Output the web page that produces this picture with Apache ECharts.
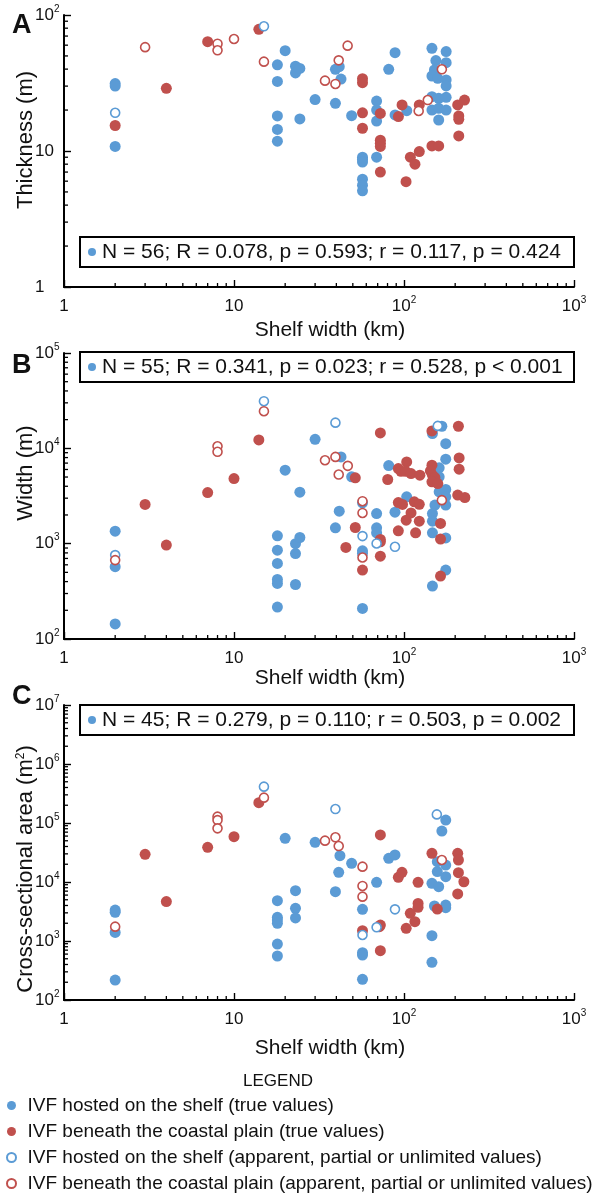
<!DOCTYPE html>
<html>
<head>
<meta charset="utf-8">
<script src="https://cdn.jsdelivr.net/npm/echarts@6/dist/echarts.min.js"></script>
<style>
  html, body { margin: 0; padding: 0; background: #fff; }
  #chart { width: 592px; height: 1194px; }
</style>
</head>
<body>
<div id="chart"></div>
<script>
// Incised-valley fill (IVF) dimensions against shelf width, three log-log panels.
// Each point is [shelf width (km), value].

// ---- Panel A: thickness (m) ----
const thicknessShelfTrue = [
  [2, 31.3], [2, 30], [2, 10.8],
  [18, 43], [18, 32.5], [18, 18.1], [18, 14.4], [18, 11.8],
  [20, 54.7], [23, 42], [23, 37.5], [24.4, 40.5], [24.4, 17.2], [30, 23.9],
  [39.5, 39.9], [41.6, 41.7], [42.6, 33.8], [39.5, 22.4], [49.2, 18.2],
  [88.6, 52.8], [81.3, 39.9],
  [57, 9.0], [57, 8.7], [57, 8.3], [57, 6.2], [57, 5.6], [57, 5.1],
  [69, 23.3], [69, 20], [69, 16.6], [69, 9.0], [88.6, 18.4], [103.8, 19.8],
  [146, 56.9], [177, 53.8], [154, 46.2], [177, 44.6], [151, 39.4], [146, 35.6],
  [158, 34.2], [177, 33.3], [177, 30.1], [146, 25.1], [160, 24.4], [177, 24.8],
  [146, 20], [160, 20.6], [177, 20], [160, 16.9]
];
const thicknessCoastalTrue = [
  [2, 15.4], [4, 28.9], [7, 63.7], [14, 78.5],
  [57, 34], [57, 31.8], [57, 19.1], [57, 14.7],
  [72.6, 18.9], [72.6, 12.0], [72.6, 11.4], [72.6, 10.8], [72.6, 7.0],
  [92.7, 17.9], [97.4, 21.8], [102.8, 5.95], [109, 9.0], [116, 8.0], [123, 9.9], [123, 21.8],
  [146, 10.9], [160, 10.9],
  [207, 21.8], [227, 23.7], [210, 18.1], [210, 17.1], [210, 12.9]
];
const thicknessShelfOpen = [[2, 19.1], [15, 82.6]];
const thicknessCoastalOpen = [
  [3, 58], [8, 61.5], [8, 55], [10, 66.6], [15, 45.4], [46.6, 59.5], [41.3, 46.4],
  [34.3, 32.9], [39.5, 31.1], [122, 19.7], [138, 23.7], [167, 39.9]
];

// ---- Panel B: width (m) ----
const widthShelfTrue = [
  [2, 1352], [2, 573], [2, 144],
  [18, 1208], [18, 855], [18, 621], [18, 422], [18, 383], [18, 216],
  [20, 5900], [23, 1000], [23, 787], [23, 373], [24.4, 1161], [24.4, 3467], [30, 12440],
  [42.6, 8130], [49.2, 5020], [41.6, 2190], [39.5, 1466],
  [57, 2680], [57, 841], [57, 789], [57, 209],
  [69, 2070], [69, 1466], [69, 1300], [81.3, 6590], [88.5, 2140], [103.7, 3100],
  [147, 14300], [167, 17050], [176, 11200], [176, 7690], [161, 6240], [161, 5020],
  [176, 3700], [161, 3500], [176, 3100], [152, 2540], [176, 2540], [147, 2070],
  [147, 1723], [147, 1300], [176, 1150], [176, 528], [147, 359]
];
const widthCoastalTrue = [
  [3, 2578], [4, 966], [7, 3437], [10, 4820], [14, 12250],
  [51.7, 4900], [51.7, 1478], [45.5, 912], [57, 528],
  [72.6, 14500], [72.6, 1107], [72.6, 1047], [72.6, 740], [80.2, 4710],
  [92.6, 6140], [96, 5750], [103.7, 7210], [102, 5750], [110, 5440], [124, 5230],
  [92.6, 2700], [98, 2580], [115, 2750], [123, 2590], [110, 2100], [103, 1765],
  [123, 1723], [92.6, 1365], [117, 1300],
  [146, 15240], [209, 17050], [211, 7940], [211, 6040], [146, 6650], [143, 5800],
  [147, 5230], [152, 4940], [146, 4450], [158, 4270], [207, 3230], [228, 3050],
  [164, 1630], [164, 1117], [164, 457]
];
const widthShelfOpen = [
  [2, 759], [15, 31200], [39.5, 18600], [57, 1200], [69, 1005], [88.5, 927], [158, 17200]
];
const widthCoastalOpen = [
  [2, 672], [8, 10500], [8, 9200], [15, 24500], [34.3, 7500], [39.5, 8130], [46.7, 6550],
  [41.3, 5310], [57, 2790], [57, 2100], [57, 716], [167, 2860]
];

// ---- Panel C: cross-sectional area (m²) ----
const areaShelfTrue = [
  [2, 3350], [2, 3060], [2, 1400], [2, 218],
  [18, 4830], [18, 2520], [18, 2270], [18, 1990], [18, 889], [18, 557],
  [20, 54900], [23, 7130], [23, 3580], [23, 2460], [30, 47000],
  [42, 27900], [49.2, 20700], [41.3, 14600], [39.5, 6850],
  [57, 3440], [57, 634], [57, 579], [57, 224], [69, 9860], [81.3, 25200], [88.5, 28700],
  [176, 112000], [167, 73100], [157, 22100], [176, 19400], [157, 15000], [176, 12300],
  [146, 9490], [160, 8340], [151, 3920], [176, 4070], [176, 3670], [146, 1230], [146, 435]
];
const areaCoastalTrue = [
  [3, 29400], [4, 4650], [7, 38700], [10, 58600], [14, 221000], [57, 1496],
  [72.6, 62700], [72.6, 1866], [71.7, 1750], [72.6, 686],
  [92.6, 12000], [97.3, 14600], [108.9, 2940], [103, 1640], [115.9, 2130],
  [121, 9860], [121, 4340], [121, 3720], [146, 30600], [157, 3480],
  [207, 30600], [209, 23600], [209, 14400], [225, 10100], [207, 6270]
];
const areaShelfOpen = [
  [15, 413000], [39.5, 172600], [57, 1264], [69, 1706], [88.5, 3440], [156, 140000]
];
const areaCoastalOpen = [
  [2, 1750], [8, 128000], [8, 112000], [8, 81200], [15, 269000], [34.3, 50200],
  [39.5, 57200], [41.3, 40700], [57, 18200], [57, 8560], [57, 5640], [167, 23600]
];

// Correlation summaries
const statsA = 'N = 56; R = 0.078, p = 0.593; r = 0.117, p = 0.424';
const statsB = 'N = 55; R = 0.341, p = 0.023; r = 0.528, p < 0.001';
const statsC = 'N = 45; R = 0.279, p = 0.110; r = 0.503, p = 0.002';

// Axis ranges (decade bounds)
const xRange = [1, 1000];
const yRangeA = [1, 100];
const yRangeB = [100, 100000];
const yRangeC = [100, 10000000];

const seriesNames = [
  'IVF hosted on the shelf (true values)',
  'IVF beneath the coastal plain (true values)',
  'IVF hosted on the shelf (apparent, partial or unlimited values)',
  'IVF beneath the coastal plain (apparent, partial or unlimited values)'
];

const BLUE = '#5b9bd5';
const RED = '#c0504d';
const FONT = "'Liberation Sans', Arial, Helvetica, sans-serif";
const INK = '#111';

const panels = [
  { letter: 'A', letterY: 12, top: 15, height: 272, yRange: yRangeA, plainLow: true,
    yTitle: 'Thickness (m)', yTitleY: 140, stats: statsA, boxTop: 237, xTitleY: 330,
    sets: [thicknessShelfTrue, thicknessCoastalTrue, thicknessShelfOpen, thicknessCoastalOpen] },
  { letter: 'B', letterY: 352, top: 353, height: 286, yRange: yRangeB, plainLow: false,
    yTitle: 'Width (m)', yTitleY: 473, stats: statsB, boxTop: 352, xTitleY: 678,
    sets: [widthShelfTrue, widthCoastalTrue, widthShelfOpen, widthCoastalOpen] },
  { letter: 'C', letterY: 683, top: 705, height: 295, yRange: yRangeC, plainLow: false,
    yTitle: 'Cross-sectional area (m{sup|2})', yTitleY: 869, stats: statsC, boxTop: 705, xTitleY: 1048,
    sets: [areaShelfTrue, areaCoastalTrue, areaShelfOpen, areaCoastalOpen] }
];

const GRID_LEFT = 64;
const GRID_WIDTH = 510;

function powLabel(plainLow) {
  return function (v) {
    const e = Math.round(Math.log10(v));
    if (plainLow && e <= 1) return '{b|' + String(Math.round(v)) + '}';
    return '{b|10}{s|' + e + '}';
  };
}
const labelRich = {
  b: { fontSize: 17, fontFamily: FONT, color: INK, lineHeight: 22 },
  s: { fontSize: 10, fontFamily: FONT, color: INK, verticalAlign: 'top', lineHeight: 12 }
};

// minor tick positions 2..9 within each decade of a range
function minorValues(lo, hi) {
  const out = [];
  for (let d = lo; d < hi; d *= 10) {
    for (let k = 2; k <= 9; k++) out.push(d * k);
  }
  return out;
}

function minorTickSeries(idx, dir, values, anchor) {
  return {
    type: 'custom',
    xAxisIndex: idx,
    yAxisIndex: idx,
    silent: true,
    clip: false,
    z: 10,
    data: values.map(v => (dir === 'x' ? [v, anchor] : [anchor, v])),
    renderItem: function (params, api) {
      const p = api.coord([api.value(0), api.value(1)]);
      const shape = dir === 'x'
        ? { x1: p[0], y1: p[1], x2: p[0], y2: p[1] - 4 }
        : { x1: p[0], y1: p[1], x2: p[0] + 4, y2: p[1] };
      return { type: 'line', shape: shape, style: { stroke: '#000', lineWidth: 1.3 } };
    }
  };
}

const grids = [], xAxes = [], yAxes = [], series = [], graphics = [];
const markerStyles = [
  { symbolSize: 11, itemStyle: { color: BLUE, opacity: 1 } },
  { symbolSize: 11, itemStyle: { color: RED, opacity: 1 } },
  { symbolSize: 9, itemStyle: { color: '#fff', borderColor: BLUE, borderWidth: 1.6, opacity: 1 } },
  { symbolSize: 9, itemStyle: { color: '#fff', borderColor: RED, borderWidth: 1.6, opacity: 1 } }
];

panels.forEach((p, i) => {
  grids.push({ left: GRID_LEFT, top: p.top, width: GRID_WIDTH, height: p.height, containLabel: false });
  const axisCommon = {
    axisLine: { show: true, lineStyle: { color: '#000', width: 2 } },
    axisTick: { show: true, inside: true, length: 7, lineStyle: { color: '#000', width: 1.4 } },
    splitLine: { show: false },
    minorTick: { show: false }
  };
  xAxes.push(Object.assign({
    gridIndex: i, type: 'log', logBase: 10, min: xRange[0], max: xRange[1],
    axisLabel: { formatter: powLabel(true), rich: labelRich, margin: 8 }
  }, axisCommon));
  yAxes.push(Object.assign({
    gridIndex: i, type: 'log', logBase: 10, min: p.yRange[0], max: p.yRange[1],
    axisLabel: { formatter: powLabel(p.plainLow), rich: labelRich, align: 'left', margin: 29 }
  }, axisCommon));

  p.sets.forEach((data, k) => {
    series.push(Object.assign({
      name: seriesNames[k], type: 'scatter', xAxisIndex: i, yAxisIndex: i,
      symbol: 'circle', data: data, z: 2 + k,
      emphasis: { disabled: true }
    }, markerStyles[k]));
  });
  series.push(minorTickSeries(i, 'x', minorValues(xRange[0], xRange[1]), p.yRange[0]));
  series.push(minorTickSeries(i, 'y', minorValues(p.yRange[0], p.yRange[1]), xRange[0]));

  // panel letter
  graphics.push({ type: 'text', x: 12, y: p.letterY, z: 100,
    style: { text: p.letter, fontSize: 27, fontWeight: 'bold', fontFamily: FONT, fill: INK } });
  // y title
  graphics.push({ type: 'text', x: 26, y: p.yTitleY, rotation: Math.PI / 2, z: 100,
    style: { text: p.yTitle, fontSize: 22, fontFamily: FONT, fill: INK, align: 'center', verticalAlign: 'middle',
      rich: { sup: { fontSize: 12, fontFamily: FONT, fill: INK, verticalAlign: 'top', lineHeight: 12 } } } });
  // x title
  graphics.push({ type: 'text', x: 330, y: p.xTitleY, z: 100,
    style: { text: 'Shelf width (km)', fontSize: 21, fontFamily: FONT, fill: INK, align: 'center', verticalAlign: 'middle' } });
  // statistics box
  graphics.push({ type: 'rect', z: 100, shape: { x: 80, y: p.boxTop, width: 494, height: 30 },
    style: { fill: '#fff', stroke: '#000', lineWidth: 2 } });
  graphics.push({ type: 'circle', z: 101, shape: { cx: 92, cy: p.boxTop + 15, r: 4 }, style: { fill: BLUE } });
  graphics.push({ type: 'text', x: 102, y: p.boxTop + 15, z: 101,
    style: { text: p.stats, fontSize: 21, fontFamily: FONT, fill: INK, verticalAlign: 'middle' } });
});

graphics.push({ type: 'text', x: 278, y: 1081, z: 100,
  style: { text: 'LEGEND', fontSize: 17, fontFamily: FONT, fill: INK, align: 'center', verticalAlign: 'middle' } });

const chart = echarts.init(document.getElementById('chart'), null, { renderer: 'canvas' });
chart.setOption({
  backgroundColor: '#fff',
  animation: false,
  textStyle: { fontFamily: FONT, color: INK },
  grid: grids,
  xAxis: xAxes,
  yAxis: yAxes,
  legend: {
    data: seriesNames,
    orient: 'vertical',
    left: 6,
    top: 1096,
    padding: 0,
    itemWidth: 22,
    itemHeight: 9,
    itemGap: 7,
    itemTextGap: 6,
    selectedMode: false,
    textStyle: { fontSize: 19, fontFamily: FONT, color: INK }
  },
  series: series,
  graphic: graphics
});
</script>
</body>
</html>
